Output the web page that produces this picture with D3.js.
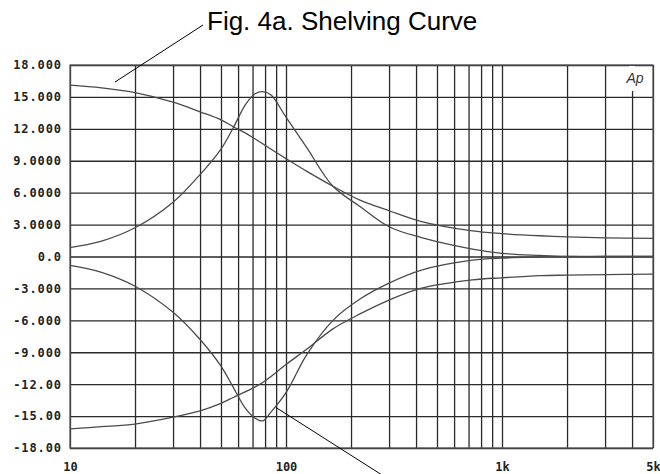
<!DOCTYPE html>
<html>
<head>
<meta charset="utf-8">
<script src="https://cdn.jsdelivr.net/npm/d3@7"></script>
<style>
  body { margin: 0; background: #fff; }
  svg { display: block; }
  .y-axis text, .x-axis text { font-family: "DejaVu Sans Mono", monospace; font-weight: bold; font-size: 12px; fill: #222; }
</style>
</head>
<body>
<svg id="chart" width="660" height="474"></svg>
<script>
// frequencies (Hz) the four responses were read at
const freqs = [10, 14, 20, 30, 40, 50, 57, 65, 72, 78, 85, 100, 125, 165, 220, 300, 420, 730, 1000, 1500, 2000, 3000, 5000]

// gain in dB
const shelf_boost = [16.1, 15.85, 15.4, 14.5, 13.6, 12.85, 12.2, 11.6, 11.05, 10.6, 10.1, 9.2, 8.0, 6.6, 5.3, 4.3, 3.3, 2.4, 2.15, 1.95, 1.85, 1.75, 1.7]
const peak_boost = [0.84, 1.45, 2.7, 5.1, 7.7, 10.1, 12.1, 14.3, 15.3, 15.5, 15.2, 13.1, 10.2, 6.6, 4.7, 2.8, 1.8, 0.7, 0.3, 0.1, 0, 0, 0]
const peak_cut = [-0.84, -1.5, -2.8, -5.25, -7.8, -10.3, -12.3, -14.3, -15.2, -15.45, -14.65, -12.8, -9.2, -6.0, -4.0, -2.5, -1.3, -0.35, -0.15, -0.05, 0, 0, 0]
const shelf_cut = [-16.2, -16.0, -15.75, -15.1, -14.5, -13.8, -13.25, -12.7, -12.25, -11.85, -11.3, -10.15, -8.7, -6.8, -5.4, -4.1, -3.0, -2.2, -2.0, -1.8, -1.75, -1.7, -1.65]

const y_ticks = [18, 15, 12, 9, 6, 3, 0, -3, -6, -9, -12, -15, -18]
const y_tick_labels = ['18.000', '15.000', '12.000', '9.0000', '6.0000', '3.0000', '0.0', '-3.000', '-6.000', '-9.000', '-12.00', '-15.00', '-18.00']
const x_label_ticks = [10, 100, 1000, 5000]
const x_tick_labels = ['10', '100', '1k', '5k']

const title = 'Fig. 4a. Shelving Curve'

const m = { left: 70, right: 653, top: 65, bottom: 448 }

const svg = d3.select('#chart')

const x = d3.scaleLog().domain([10, 5000]).range([m.left, m.right])
const y = d3.scaleLinear().domain([-18, 18]).range([m.bottom, m.top])

// horizontal grid + labels
svg.append('g')
  .attr('class', 'y-axis')
  .attr('transform', `translate(${m.left},0)`)
  .call(d3.axisLeft(y)
    .tickValues(y_ticks)
    .tickSize(-(m.right - m.left))
    .tickPadding(8)
    .tickFormat((d, i) => y_tick_labels[i]))
  .call(g => g.select('.domain').remove())
  .call(g => g.selectAll('.tick line').attr('stroke', '#2a2a2a').attr('stroke-width', 1.3))
  .call(g => g.selectAll('.tick text').attr('letter-spacing', '0.9px'))

// vertical grid, labels only at decades and the end
svg.append('g')
  .attr('class', 'x-axis')
  .attr('transform', `translate(0,${m.bottom})`)
  .call(d3.axisBottom(x)
    .tickValues(x.ticks())
    .tickSize(-(m.bottom - m.top))
    .tickPadding(14)
    .tickFormat(d => {
      const i = x_label_ticks.indexOf(d)
      return i < 0 ? '' : x_tick_labels[i]
    }))
  .call(g => g.select('.domain').remove())
  .call(g => g.selectAll('.tick line').attr('stroke', '#2a2a2a').attr('stroke-width', 1.3))

// frame
svg.append('rect')
  .attr('x', m.left).attr('y', m.top)
  .attr('width', m.right - m.left).attr('height', m.bottom - m.top)
  .attr('fill', 'none')
  .attr('stroke', '#555')
  .attr('stroke-width', 1.2)

// Ap mark sits over the 4k line
svg.append('rect')
  .attr('x', x(4000) - 3).attr('y', m.top + 1)
  .attr('width', 6).attr('height', 25)
  .attr('fill', '#fff')
svg.append('text')
  .attr('x', 635).attr('y', 83)
  .attr('text-anchor', 'middle')
  .attr('font-family', '"Liberation Sans", Arial, sans-serif')
  .attr('font-style', 'italic')
  .attr('font-size', 14)
  .attr('fill', '#333')
  .text('Ap')

const line = d3.line()
  .x((d, i) => x(freqs[i]))
  .y(d => y(d))
  .curve(d3.curveCatmullRom.alpha(0.5))

svg.selectAll('.curve')
  .data([shelf_boost, peak_boost, peak_cut, shelf_cut])
  .enter()
  .append('path')
  .attr('class', 'curve')
  .attr('d', line)
  .attr('fill', 'none')
  .attr('stroke', '#4a4a4a')
  .attr('stroke-width', 1.3)

// callouts
svg.append('line')
  .attr('x1', 115).attr('y1', 82)
  .attr('x2', 203).attr('y2', 25)
  .attr('stroke', '#000').attr('stroke-width', 1)
svg.append('line')
  .attr('x1', x(90)).attr('y1', y(-14.2))
  .attr('x2', 382).attr('y2', 475)
  .attr('stroke', '#000').attr('stroke-width', 1)

svg.append('text')
  .attr('x', 207).attr('y', 30)
  .attr('font-family', '"Liberation Sans", Arial, sans-serif')
  .attr('font-size', 26)
  .attr('fill', '#000')
  .text(title)
</script>
</body>
</html>
